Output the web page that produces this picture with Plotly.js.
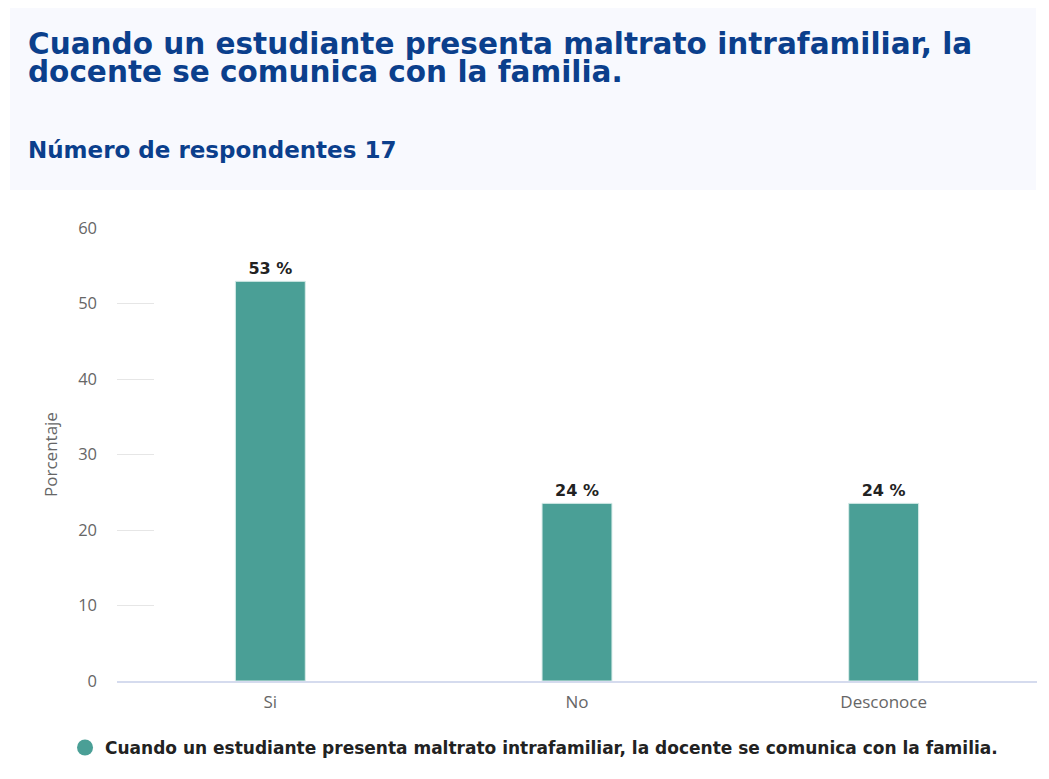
<!DOCTYPE html>
<html>
<head>
<meta charset="utf-8">
<script src="https://cdn.plot.ly/plotly-3.0.1.min.js"></script>
<style>html,body{margin:0;padding:0;background:#fff;}#chart{width:1049px;height:779px;}</style>
</head>
<body>
<div id="chart"></div>
<script>
const categories = ["Si", "No", "Desconoce"];
const values = [52.94, 23.53, 23.53];
const valueLabels = ["53 %", "24 %", "24 %"];
const seriesName = "Cuando un estudiante presenta maltrato intrafamiliar, la docente se comunica con la familia.";
const titleLines = ["Cuando un estudiante presenta maltrato intrafamiliar, la", "docente se comunica con la familia."];
const subtitle = "Número de respondentes 17";
const yTicks = [0, 10, 20, 30, 40, 50, 60];

const barColor = "#4a9f96";
const titleColor = "#0b3f8c";

const barTrace = {
  type: "bar",
  x: categories,
  y: values,
  name: seriesName,
  text: valueLabels,
  textposition: "outside",
  cliponaxis: false,
  textfont: {family: "DejaVu Sans", size: 16, color: "#222222", weight: "bold"},
  marker: {color: barColor, line: {color: "#d8ece9", width: 1}},
  showlegend: false,
  hoverinfo: "x+y"
};

// legend entry drawn as a circle (no plotted points)
const legendTrace = {
  type: "scatter",
  mode: "markers",
  x: [null],
  y: [null],
  name: seriesName,
  marker: {color: barColor, size: 16, symbol: "circle"},
  showlegend: true,
  hoverinfo: "skip"
};

const layout = {
  width: 1049, height: 779,
  paper_bgcolor: "#ffffff",
  plot_bgcolor: "#ffffff",
  margin: {l: 117, r: 12, t: 228, b: 98},
  bargap: 0.772,
  font: {family: "Open Sans", color: "#666666"},
  xaxis: {
    type: "category",
    categoryarray: categories,
    showgrid: false,
    showline: true, linecolor: "#d5dbee", linewidth: 2,
    ticks: "",
    tickfont: {family: "Open Sans", size: 17, color: "#666666"},
    ticklabelstandoff: 5,
    fixedrange: true
  },
  yaxis: {
    range: [0, 60],
    tickvals: yTicks,
    showgrid: false,
    zeroline: false,
    showline: false,
    ticks: "inside", ticklen: 37, tickcolor: "#e6e6e6", tickwidth: 1,
    tickfont: {family: "Open Sans", size: 16.5, color: "#666666"},
    ticklabelstandoff: 19,
    title: {text: "Porcentaje", font: {family: "Open Sans", size: 17, color: "#666666"}, standoff: 16},
    fixedrange: true
  },
  legend: {
    orientation: "h",
    x: -0.0565, xanchor: "left",
    y: -0.108, yanchor: "top",
    font: {family: "DejaVu Sans", size: 17, color: "#222222", weight: "bold"},
    itemsizing: "trace"
  },
  shapes: [{
    type: "rect", xref: "paper", yref: "paper", layer: "below",
    x0: -0.1163, x1: 0.9989, y0: 1.0839, y1: 1.4857,
    fillcolor: "#f8f9fe", line: {width: 0}
  }],
  annotations: [
    {
      text: "<b>" + titleLines[0] + "</b>",
      xref: "paper", yref: "paper", x: -0.099, y: 1.4062, xanchor: "left", yanchor: "middle",
      showarrow: false,
      font: {family: "DejaVu Sans", size: 29.5, color: titleColor}
    },
    {
      text: "<b>" + titleLines[1] + "</b>",
      xref: "paper", yref: "paper", x: -0.099, y: 1.3444, xanchor: "left", yanchor: "middle",
      showarrow: false,
      font: {family: "DejaVu Sans", size: 29.5, color: titleColor}
    },
    {
      text: "<b>" + subtitle + "</b>",
      xref: "paper", yref: "paper", x: -0.099, y: 1.172, xanchor: "left", yanchor: "middle",
      showarrow: false,
      font: {family: "DejaVu Sans", size: 23, color: titleColor}
    }
  ]
};

Plotly.newPlot("chart", [barTrace, legendTrace], layout, {displayModeBar: false});
</script>
</body>
</html>
